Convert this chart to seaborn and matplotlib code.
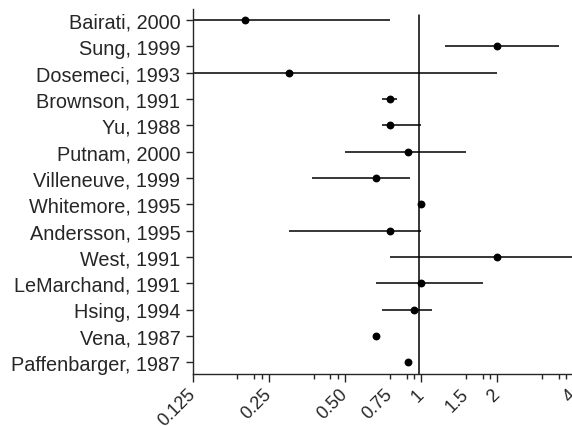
import numpy as np
import pandas as pd
import matplotlib
matplotlib.use("Agg")
import matplotlib.pyplot as plt
import matplotlib.ticker as mticker
import seaborn as sns

# study estimates
studies = [
    "Bairati, 2000", "Sung, 1999", "Dosemeci, 1993", "Brownson, 1991",
    "Yu, 1988", "Putnam, 2000", "Villeneuve, 1999", "Whitemore, 1995",
    "Andersson, 1995", "West, 1991", "LeMarchand, 1991", "Hsing, 1994",
    "Vena, 1987", "Paffenbarger, 1987",
]
estimate = [0.20, 2.0, 0.30, 0.75, 0.75, 0.89, 0.66, 1.0, 0.75, 2.0, 1.0, 0.94, 0.66, 0.89]
lower = [0.05, 1.24, 0.04, 0.70, 0.70, 0.50, 0.37, 1.0, 0.30, 0.75, 0.66, 0.70, 0.66, 0.89]
upper = [0.75, 3.5, 2.0, 0.80, 1.0, 1.5, 0.90, 1.0, 1.0, 5.2, 1.75, 1.10, 0.66, 0.89]

ref_value = 0.98

major_ticks = [0.125, 0.25, 0.5, 1, 2, 4]
major_labels = ["0.125", "0.25", "0.50", "1", "2", "4"]
minor_labels = {0.75: "0.75", 1.5: "1.5"}

df = pd.DataFrame({"study": studies, "est": estimate, "lo": lower, "hi": upper})

sns.set_style("ticks")
plt.rcParams["font.family"] = ["Liberation Sans", "DejaVu Sans"]

fig = plt.figure(figsize=(5.72, 4.27), dpi=100)
ax = fig.add_axes([0.3374, 0.1218, 0.6649, 0.8548])

ax.hlines(df["study"], df["lo"], df["hi"], color="black", linewidth=1.1, zorder=2)
sns.scatterplot(data=df, x="est", y="study", color="black", s=32,
                edgecolor="black", linewidth=0, zorder=3, ax=ax)
ax.axvline(ref_value, ymax=0.984, color="black", linewidth=1.1, zorder=1)

ax.set_xscale("log", base=2)
ax.set_xlim(0.125, 4)
ax.set_ylim(len(studies) - 1 + 0.45, -0.42)

ax.xaxis.set_major_locator(mticker.FixedLocator(major_ticks))
ax.xaxis.set_major_formatter(mticker.FixedFormatter(major_labels))
minors = []
for p in major_ticks[:-1]:
    minors += [p * 1.5, p * 1.75, p * 1.875]
ax.xaxis.set_minor_locator(mticker.FixedLocator(minors))
ax.xaxis.set_minor_formatter(
    mticker.FuncFormatter(lambda v, pos: minor_labels.get(round(v, 4), ""))
)

ax.tick_params(axis="x", which="major", length=5.5, width=1, labelsize=13, pad=7)
ax.tick_params(axis="x", which="minor", length=3.5, width=1, labelsize=13, pad=9)
ax.tick_params(axis="y", length=5, width=1, labelsize=14.3, pad=4)
for lab in ax.get_xticklabels(which="both"):
    lab.set_rotation(45)
    lab.set_ha("right")
    lab.set_va("center")
    lab.set_rotation_mode("anchor")

ax.set_xlabel("")
ax.set_ylabel("")
for side in ["top", "right"]:
    ax.spines[side].set_visible(False)
ax.spines["left"].set_linewidth(1)
ax.spines["bottom"].set_linewidth(1)

fig.savefig("out.png", dpi=100)
